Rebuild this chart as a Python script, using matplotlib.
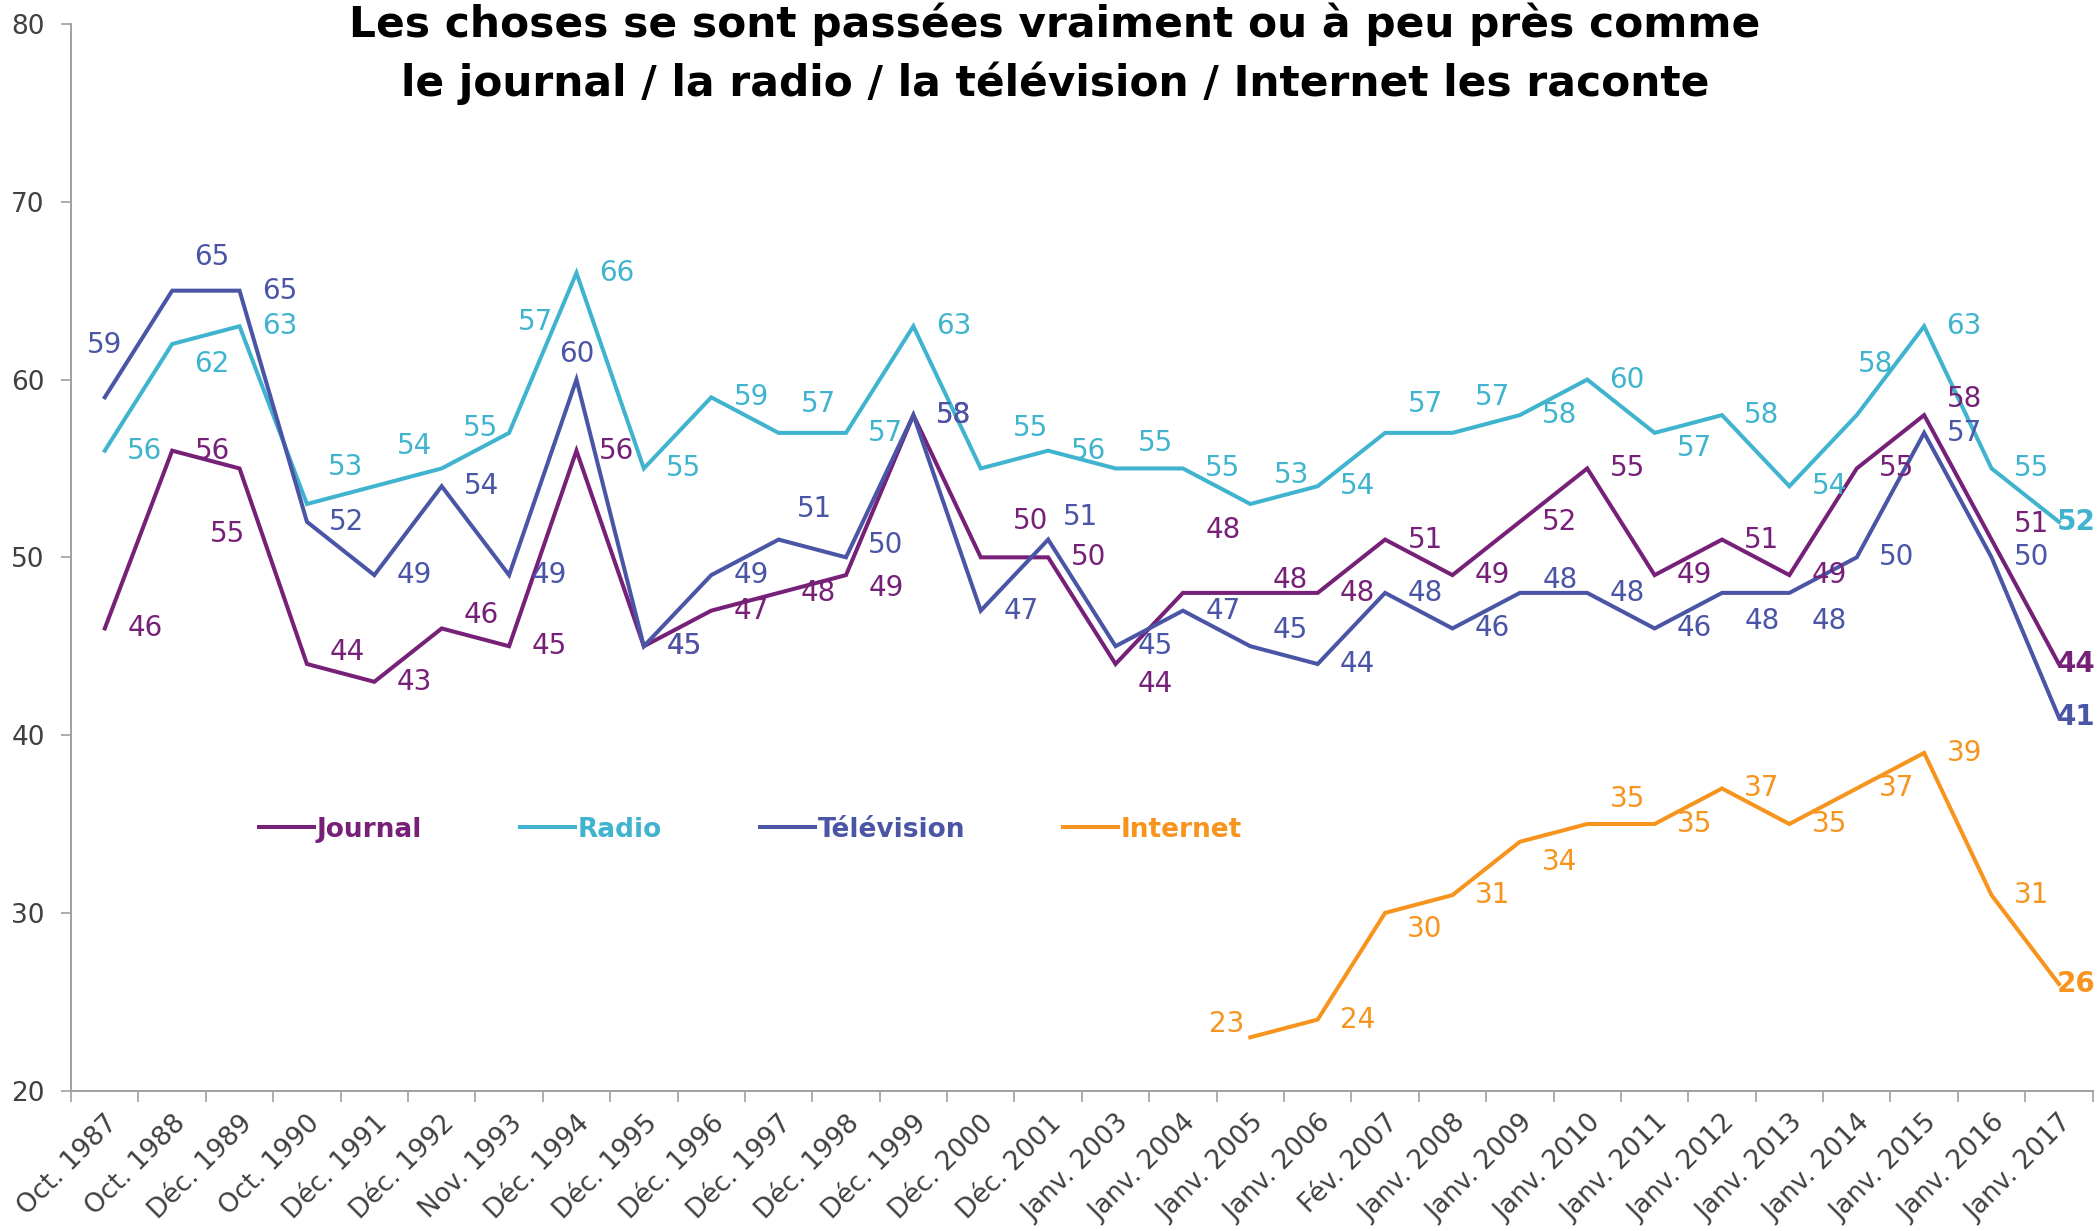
import matplotlib
matplotlib.use("Agg")
import matplotlib.pyplot as plt
import numpy as np

categories = ["Oct. 1987", "Oct. 1988", "Déc. 1989", "Oct. 1990", "Déc. 1991",
              "Déc. 1992", "Nov. 1993", "Déc. 1994", "Déc. 1995", "Déc. 1996",
              "Déc. 1997", "Déc. 1998", "Déc. 1999", "Déc. 2000", "Déc. 2001",
              "Janv. 2003", "Janv. 2004", "Janv. 2005", "Janv. 2006", "Fév. 2007",
              "Janv. 2008", "Janv. 2009", "Janv. 2010", "Janv. 2011", "Janv. 2012",
              "Janv. 2013", "Janv. 2014", "Janv. 2015", "Janv. 2016", "Janv. 2017"]

journal = [46, 56, 55, 44, 43, 46, 45, 56, 45, 47, 48, 49, 58, 50, 50,
           44, 48, 48, 48, 51, 49, 52, 55, 49, 51, 49, 55, 58, 51, 44]
radio = [56, 62, 63, 53, 54, 55, 57, 66, 55, 59, 57, 57, 63, 55, 56,
         55, 55, 53, 54, 57, 57, 58, 60, 57, 58, 54, 58, 63, 55, 52]
television = [59, 65, 65, 52, 49, 54, 49, 60, 45, 49, 51, 50, 58, 47, 51,
              45, 47, 45, 44, 48, 46, 48, 48, 46, 48, 48, 50, 57, 50, 41]
internet_start = 17
internet = [23, 24, 30, 31, 34, 35, 35, 37, 35, 37, 39, 31, 26]

series_names = ["Journal", "Radio", "Télévision", "Internet"]
colors = ["#762078", "#40B4CE", "#4A55A6", "#F7941E"]

title_lines = ["Les choses se sont passées vraiment ou à peu près comme",
               "le journal / la radio / la télévision / Internet les raconte"]

# label offsets (screen units, x right / y down); default to the right of the point
DEFAULT_OFF = (30, 0)
off_journal = {2: (-9, 49), 3: (30, -9), 5: (30, -10), 11: (30, 10), 13: (37, -27),
               15: (30, 15), 16: (30, -47), 17: (30, -10), 27: (30, -12),
               28: (30, -12), 29: (13, 0)}
off_radio = {1: (30, 15), 3: (29, -28), 4: (30, -30), 5: (29, -30), 6: (20, -83),
             10: (30, -22), 13: (37, -30), 15: (30, -19), 17: (31, -22),
             19: (30, -22), 20: (30, -27), 23: (30, 11), 26: (14, -38), 29: (13, 0)}
off_tv = {0: (0, -39), 1: (30, -25), 7: (0, -19), 10: (27, -23), 11: (30, -9),
          14: (24, -17), 17: (30, -12), 21: (30, -10), 24: (30, 21), 25: (30, 21),
          29: (13, 0)}
off_internet = {17: (-18, -10), 21: (30, 15), 22: (30, -19), 19: (30, 12),
                29: (13, 0)}

fig = plt.figure(figsize=(20.97, 12.31), dpi=100)
ax = fig.add_axes([0.0339, 0.114, 0.964, 0.8665])

x = np.arange(len(categories))
internet_full = [np.nan] * internet_start + internet
all_series = [journal, radio, television, internet_full]
all_offsets = [off_journal, off_radio, off_tv, off_internet]

lines = []
for name, vals, col in zip(series_names, all_series, colors):
    ln, = ax.plot(x, vals, color=col, lw=2.9, label=name, solid_joinstyle="miter",
                  zorder=3)
    lines.append(ln)

for vals, col, offs in zip(all_series, colors, all_offsets):
    last = len(vals) - 1
    for i, v in enumerate(vals):
        if v is None or (isinstance(v, float) and np.isnan(v)):
            continue
        dx, dy = offs.get(i, DEFAULT_OFF)
        ax.annotate(f"{int(v)}", (x[i], v), xytext=(dx * 0.96, -dy * 0.96),
                    textcoords="offset points", ha="center", va="center",
                    color=col, fontsize=20,
                    fontweight="bold" if i == last else "normal", zorder=5)

ax.set_xlim(-0.5, len(categories) - 0.5)
ax.set_ylim(20, 80)
ax.set_yticks([20, 30, 40, 50, 60, 70, 80])
ax.set_xticks(x)
ax.set_xticklabels(categories, rotation=45, ha="right", rotation_mode="anchor")
ax.set_xticks(np.arange(-0.5, len(categories), 1.0), minor=True)
ax.tick_params(axis="x", which="major", length=0, pad=14, labelsize=19,
               labelcolor="#404040")
ax.tick_params(axis="x", which="minor", length=8, width=1.2, color="#A0A0A0",
               direction="out")
ax.tick_params(axis="y", length=7, width=1.2, color="#A0A0A0", labelsize=19,
               labelcolor="#404040", pad=12)
for s in ["top", "right"]:
    ax.spines[s].set_visible(False)
for s in ["left", "bottom"]:
    ax.spines[s].set_color("#A0A0A0")
    ax.spines[s].set_linewidth(1.4)

leg = ax.legend(handles=lines, loc="center left", bbox_to_anchor=(0.112, 0.326),
                bbox_transform=fig.transFigure, ncol=4, frameon=False,
                handlelength=2.1, handletextpad=0.1, columnspacing=3.7,
                prop={"size": 19, "weight": "bold"})
for txt, col in zip(leg.get_texts(), colors):
    txt.set_color(col)

fig.text(0.503, 0.9805, title_lines[0], ha="center", va="center",
         fontsize=30.5, fontweight="bold", color="black")
fig.text(0.503, 0.9326, title_lines[1], ha="center", va="center",
         fontsize=30.5, fontweight="bold", color="black")

fig.savefig("out.png", dpi=100)
